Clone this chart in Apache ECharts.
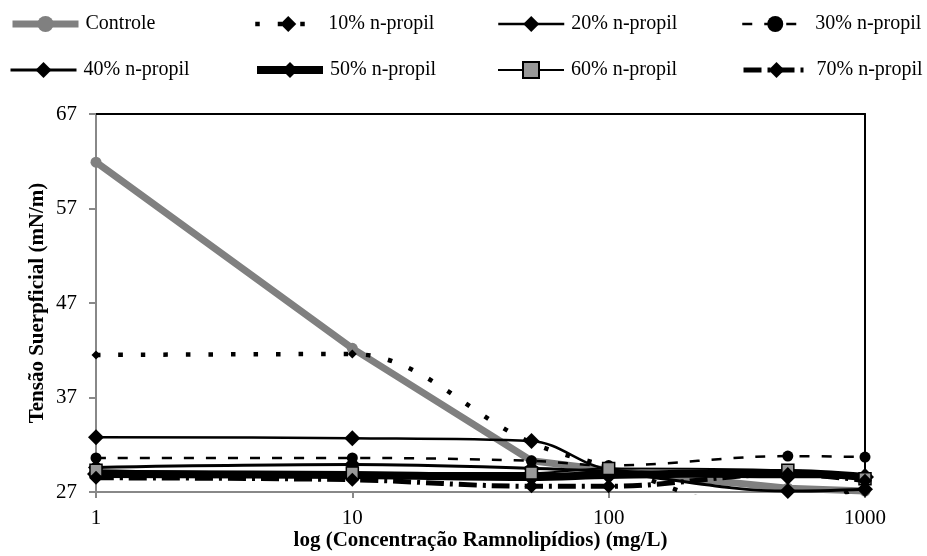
<!DOCTYPE html>
<html><head><meta charset="utf-8">
<script src="https://cdn.jsdelivr.net/npm/echarts@6/dist/echarts.min.js"></script>
<style>html,body{margin:0;padding:0;background:#fff}#c{width:927px;height:556px}</style>
</head><body><div id="c"></div>
<script>
const concentrations = [1, 10, 50, 100, 500, 1000];
const xTickLabels = ['1', '10', '100', '1000'];
const yTickLabels = ['27', '37', '47', '57', '67'];
const seriesNames = ['Controle', '10% n-propil', '20% n-propil', '30% n-propil', '40% n-propil', '50% n-propil', '60% n-propil', '70% n-propil'];
const controle = [61.9, 42.2, 30.3, 29.3, 27.4, 27.1];
const propil10 = [41.5, 41.6, 32.2, 29.7, 24.5, 28.2];
const propil20 = [32.8, 32.7, 32.4, 29.4, 28.6, 28.6];
const propil30 = [30.6, 30.6, 30.3, 29.8, 30.8, 30.7];
const propil40 = [29.6, 29.9, 29.5, 29.1, 27.1, 27.3];
const propil50 = [28.9, 28.8, 28.6, 28.8, 29.0, 28.6];
const propil60 = [29.3, 29.0, 29.0, 29.5, 29.3, 28.4];
const propil70 = [28.5, 28.3, 27.6, 27.6, 28.9, 28.2];

const values = [controle, propil10, propil20, propil30, propil40, propil50, propil60, propil70];
const pairs = v => concentrations.map((c, i) => [c, v[i]]);
const FONT = '"Liberation Serif", "Times New Roman", serif';
const FS = 21;

const styles = [
  {color:'#808080', width:7, type:'solid', symbol:'circle', size:11, smooth:false, fill:'#808080', border:'#808080'},
  {color:'#000', width:4.5, type:[4.5,18], symbol:'diamond', size:9, smooth:true, fill:'#000', border:'#000'},
  {color:'#000', width:2.5, type:'solid', symbol:'diamond', size:16, smooth:true, fill:'#000', border:'#000'},
  {color:'#000', width:2.5, type:[10,12], symbol:'circle', size:11, smooth:true, fill:'#000', border:'#000'},
  {color:'#000', width:3, type:'solid', symbol:'diamond', size:16, smooth:true, fill:'#000', border:'#000'},
  {color:'#000', width:8, type:'solid', symbol:'diamond', size:18, smooth:true, fill:'#000', border:'#000'},
  {color:'#000', width:2, type:'solid', symbol:'rect', size:12, smooth:true, fill:'#999999', border:'#000'},
  {color:'#000', width:5, type:[18,6,3,6], symbol:'diamond', size:14, smooth:true, fill:'#000', border:'#000'}
];

const series = seriesNames.map((name, i) => {
  const s = styles[i];
  return {
    name, type:'line', xAxisIndex:0, yAxisIndex:0,
    data: pairs(values[i]),
    smooth: s.smooth ? 0.35 : false,
    symbol: s.symbol, symbolSize: s.size,
    lineStyle:{color:s.color, width:s.width, type:s.type, cap:'butt'},
    itemStyle:{color:s.fill, borderColor:s.border, borderWidth: i===6 ? 1.5 : 0},
    clip:true, animation:false
  };
});

const legendPos = [[9,14],[253,14],[497,14],[741,14],[9,60],[253,60],[497,60],[741,60]];
const legends = seriesNames.map((n, i) => ({
  data:[n], left:legendPos[i][0], top:legendPos[i][1], padding:0,
  itemWidth:66, itemHeight:20, itemGap:0,
  lineStyle:{width:'inherit'},
  textStyle:{fontFamily:FONT, fontSize:20, color:'#000', padding:[0,0,0,2]},
  selectedMode:false
}));

const chart = echarts.init(document.getElementById('c'), null, {renderer:'canvas'});
chart.setOption({
  animation:false,
  backgroundColor:'#fff',
  legend: legends,
  grid:{left:96, right:62, top:114, bottom:64, containLabel:false, outerBoundsMode:'none'},
  xAxis:[{
    type:'log', logBase:10, min:1, max:1000,
    name:'log (Concentração Ramnolipídios) (mg/L)', nameLocation:'middle', nameGap:38, nameMoveOverlap:false,
    nameTextStyle:{fontFamily:FONT, fontSize:FS, fontWeight:'bold', color:'#000'},
    axisLine:{show:true, lineStyle:{color:'#888', width:2}},
    axisTick:{show:true, inside:false, length:6, lineStyle:{color:'#888', width:2}},
    minorTick:{show:false}, splitLine:{show:false},
    axisLabel:{fontFamily:FONT, fontSize:FS, color:'#000', margin:16,
      formatter: v => { const k = xTickLabels.indexOf(String(Math.round(v))); return k>=0 ? xTickLabels[k] : ''; }}
  },{
    type:'log', logBase:10, min:1, max:1000, position:'top', gridIndex:0,
    axisLine:{show:true, onZero:false, lineStyle:{color:'#000', width:2}},
    axisTick:{show:false}, axisLabel:{show:false}, splitLine:{show:false}
  }],
  yAxis:[{
    type:'value', min:27, max:67, interval:10,
    name:'Tensão Suerpficial (mN/m)', nameLocation:'middle', nameGap:48, nameRotate:90, nameMoveOverlap:false,
    nameTextStyle:{fontFamily:FONT, fontSize:FS, fontWeight:'bold', color:'#000'},
    axisLine:{show:true, lineStyle:{color:'#888', width:2}},
    axisTick:{show:true, inside:false, length:7, lineStyle:{color:'#888', width:2}},
    splitLine:{show:false},
    axisLabel:{fontFamily:FONT, fontSize:FS, color:'#000', margin:19,
      formatter: v => { const k = yTickLabels.indexOf(String(Math.round(v))); return k>=0 ? yTickLabels[k] : ''; }}
  },{
    type:'value', min:27, max:67, position:'right',
    axisLine:{show:true, onZero:false, lineStyle:{color:'#000', width:2}},
    axisTick:{show:false}, axisLabel:{show:false}, splitLine:{show:false}
  }],
  series
});
</script></body></html>
